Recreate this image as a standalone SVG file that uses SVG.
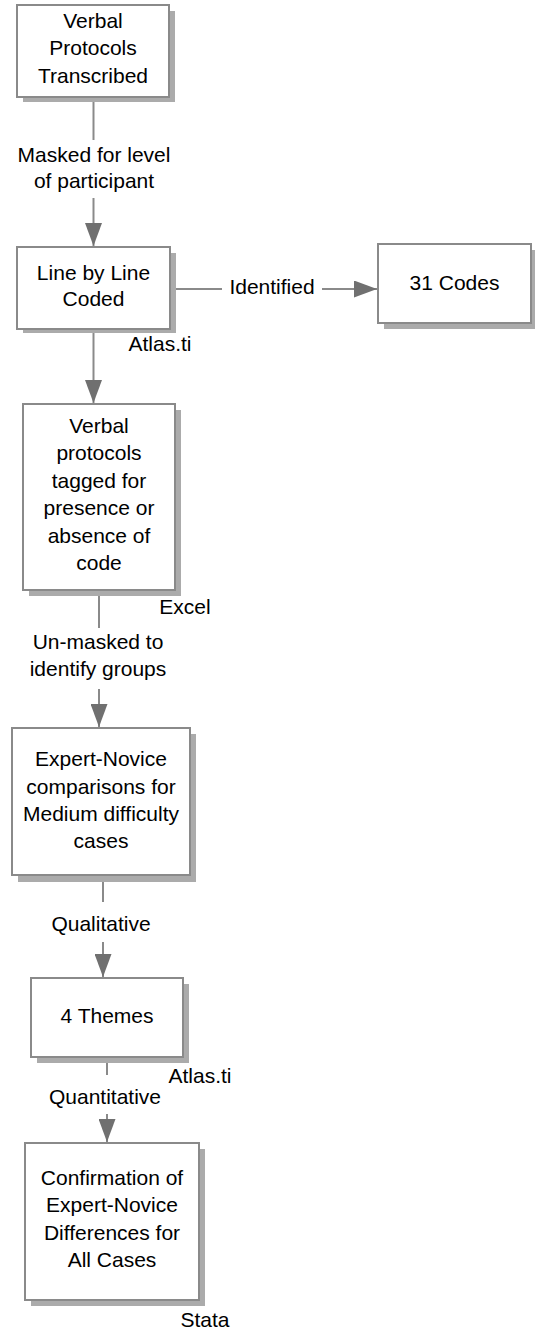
<svg xmlns="http://www.w3.org/2000/svg" width="535" height="1331" viewBox="0 0 535 1331">
<style>
.sh{fill:#ababab;stroke:none}
.bx{fill:#ffffff;stroke:#8a8a8a;stroke-width:2}
text{font-family:"Liberation Sans",Arial,sans-serif;font-size:21px;fill:#000;text-anchor:middle}
.ln{stroke:#8a8a8a;stroke-width:2;fill:none}
</style>
<defs>
<marker id="ah" viewBox="0 0 23 17" markerWidth="23" markerHeight="17" refX="23" refY="8.5" orient="auto" markerUnits="userSpaceOnUse">
<path d="M0,0 L23,8.5 L0,17 z" fill="#707070"/>
</marker>
</defs>
<rect width="535" height="1331" fill="#ffffff"/>
<g id="connectors">
<line class="ln" x1="93.5" y1="97" x2="93.5" y2="140"/>
<line class="ln" x1="93.5" y1="198" x2="93.5" y2="246" marker-end="url(#ah)"/>
<text x="94" y="162">Masked for level</text>
<text x="94" y="188">of participant</text>
<line class="ln" x1="170" y1="289" x2="222" y2="289"/>
<line class="ln" x1="322" y1="289" x2="377" y2="289" marker-end="url(#ah)"/>
<text x="272" y="294">Identified</text>
<line class="ln" x1="93.5" y1="329" x2="93.5" y2="403" marker-end="url(#ah)"/>
<text x="160" y="351">Atlas.ti</text>
<line class="ln" x1="99" y1="591" x2="99" y2="628"/>
<line class="ln" x1="99" y1="689" x2="99" y2="727" marker-end="url(#ah)"/>
<text x="185" y="614">Excel</text>
<text x="98" y="649">Un-masked to</text>
<text x="98" y="676">identify groups</text>
<line class="ln" x1="103" y1="876" x2="103" y2="902"/>
<line class="ln" x1="103" y1="942" x2="103" y2="977" marker-end="url(#ah)"/>
<text x="101" y="931">Qualitative</text>
<line class="ln" x1="107" y1="1058" x2="107" y2="1075"/>
<line class="ln" x1="107" y1="1114" x2="107" y2="1142" marker-end="url(#ah)"/>
<text x="200" y="1083">Atlas.ti</text>
<text x="105" y="1104">Quantitative</text>
<text x="205" y="1327">Stata</text>
</g>
<g id="n1">
<rect class="sh" x="23" y="11" width="152" height="91"/>
<rect class="bx" x="17" y="5" width="152" height="92"/>
<text x="93" y="28">Verbal</text>
<text x="93" y="55">Protocols</text>
<text x="93" y="83">Transcribed</text>
</g>
<g id="n2">
<rect class="sh" x="23" y="253" width="153" height="80"/>
<rect class="bx" x="17" y="247" width="153" height="82"/>
<text x="93.5" y="280">Line by Line</text>
<text x="93.5" y="306">Coded</text>
</g>
<g id="n3">
<rect class="sh" x="384" y="250" width="153" height="79"/>
<rect class="bx" x="378" y="244" width="153" height="79"/>
<text x="454.5" y="290">31 Codes</text>
</g>
<g id="n4">
<rect class="sh" x="29" y="410" width="152" height="186"/>
<rect class="bx" x="23" y="404" width="152" height="186"/>
<text x="99" y="433">Verbal</text>
<text x="99" y="460">protocols</text>
<text x="99" y="488">tagged for</text>
<text x="99" y="515">presence or</text>
<text x="99" y="543">absence of</text>
<text x="99" y="570">code</text>
</g>
<g id="n5">
<rect class="sh" x="18" y="734" width="178" height="148"/>
<rect class="bx" x="12" y="728" width="178" height="147"/>
<text x="101" y="766">Expert-Novice</text>
<text x="101" y="793.5">comparisons for</text>
<text x="101" y="821">Medium difficulty</text>
<text x="101" y="848">cases</text>
</g>
<g id="n6">
<rect class="sh" x="37" y="984" width="152" height="79"/>
<rect class="bx" x="31" y="978" width="152" height="79"/>
<text x="107" y="1023">4 Themes</text>
</g>
<g id="n7">
<rect class="sh" x="31" y="1149" width="174" height="157"/>
<rect class="bx" x="25" y="1143" width="174" height="157"/>
<text x="112" y="1185">Confirmation of</text>
<text x="112" y="1212">Expert-Novice</text>
<text x="112" y="1239.5">Differences for</text>
<text x="112" y="1267">All Cases</text>
</g>
</svg>
